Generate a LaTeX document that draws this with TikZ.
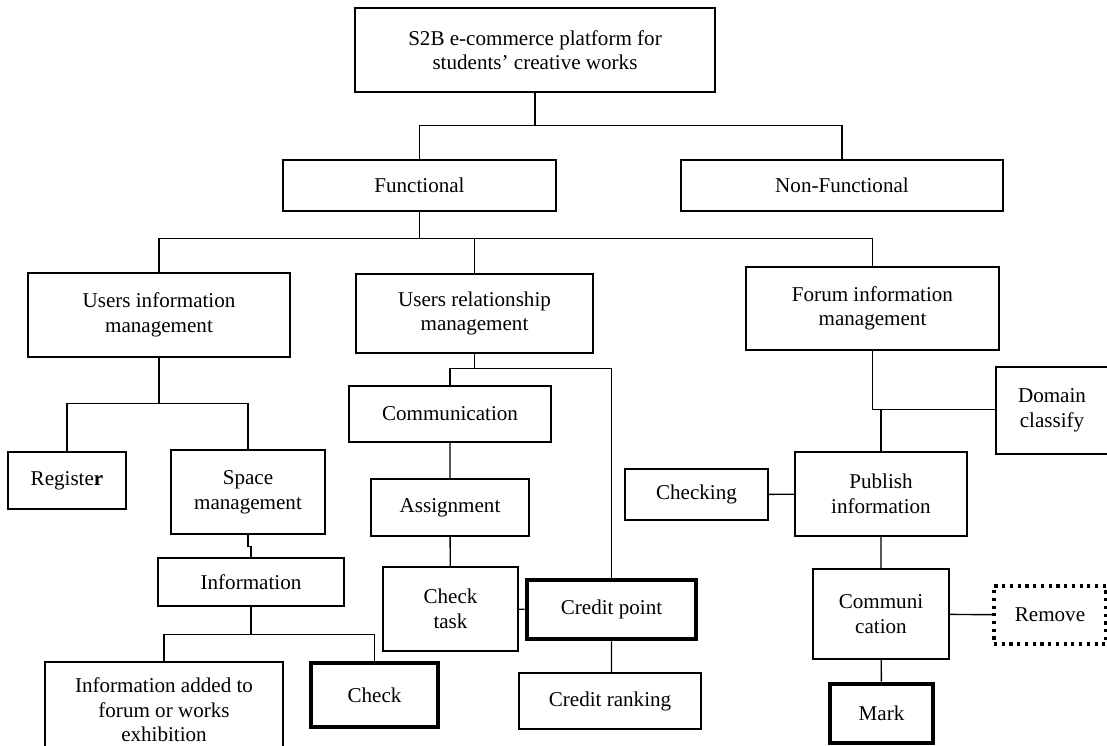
\documentclass[tikz,border=0pt]{standalone}
\usepackage{fontspec}
\setmainfont{Liberation Serif}
\usepackage{tikz}

\begin{document}
\begin{tikzpicture}[x=0.02cm,y=-0.02cm,
        font=\fontsize{12}{14}\selectfont,
        box/.style={draw,rectangle,line width=0.8pt,align=center,inner sep=2pt},
        boldbox/.style={box,line width=2.8pt},
        dotbox/.style={box,line width=1.8pt,dash pattern=on 1.8pt off 2.6pt},
        link/.style={line width=0.8pt}]
        \useasboundingbox (0,0) rectangle (1107,745);

        \node (top) at (535,50) [box,minimum width=7.2cm,minimum height=1.68cm] {S2B e-commerce platform for\\students’ creative works};
        \node (fun) at (419.5,185.5) [box,minimum width=5.46cm,minimum height=1.02cm] {Functional};
        \node (nonfun) at (842,185.5) [box,minimum width=6.44cm,minimum height=1.02cm] {Non-Functional};

        \node (uim) at (159,315) [box,minimum width=5.24cm,minimum height=1.68cm] {Users information\\management};
        \node (urm) at (474.5,313.5) [box,minimum width=4.74cm,minimum height=1.58cm] {Users relationship\\management};
        \node (fim) at (872.5,308.5) [box,minimum width=5.06cm,minimum height=1.66cm] {Forum information\\management};

        \node (reg) at (67,480.5) [box,minimum width=2.36cm,minimum height=1.14cm] {Registe\textbf{r}};
        \node (spm) at (248,492) [box,minimum width=3.08cm,minimum height=1.68cm] {Space\\management};
        \node (info) at (251,582) [box,minimum width=3.72cm,minimum height=0.96cm] {Information};
        \node (iadd) at (164,710) [box,minimum width=4.76cm,minimum height=1.92cm] {Information added to\\forum or works\\exhibition};
        \node (chk) at (374.5,695) [boldbox,minimum width=2.54cm,minimum height=1.28cm] {Check};

        \node (comm) at (450,414) [box,minimum width=4.04cm,minimum height=1.12cm] {Communication};
        \node (asg) at (450,507.5) [box,minimum width=3.16cm,minimum height=1.14cm] {Assignment};
        \node (task) at (450.5,609) [box,minimum width=2.7cm,minimum height=1.68cm] {Check\\task};
        \node (cpt) at (611.5,609.5) [boldbox,minimum width=3.38cm,minimum height=1.18cm] {Credit point};
        \node (crank) at (610,701) [box,minimum width=3.64cm,minimum height=1.12cm] {Credit ranking};

        \node (dom) at (1052,410.5) [box,minimum width=2.24cm,minimum height=1.74cm] {Domain\\classify};
        \node (pub) at (881,494) [box,minimum width=3.44cm,minimum height=1.68cm] {Publish\\information};
        \node (chking) at (696.5,494.5) [box,minimum width=2.86cm,minimum height=1.02cm] {Checking};
        \node (comm2) at (881,614) [box,minimum width=2.72cm,minimum height=1.8cm] {Communi\\cation};
        \node (rem) at (1050,615) [dotbox,minimum width=2.24cm,minimum height=1.16cm] {Remove};
        \node (mark) at (881.5,713.5) [boldbox,minimum width=2.06cm,minimum height=1.18cm] {Mark};

        % tree links
        \draw [link] (top.south) -- ++(0,33) -| (fun.north) (top.south) -- ++(0,33) -| (nonfun.north);
        \draw [link] (fun.south) -- ++(0,27) -| (uim.north) (fun.south) -- ++(0,27) -| (urm.north) (fun.south) -- ++(0,27) -| (fim.north);
        \draw [link] (uim.south) -- ++(0,46) -| (reg.north) (uim.south) -- ++(0,46) -| (spm.north);
        \draw [link] (spm.south) -- ++(0,12) -| (info.north);
        \draw [link] (info.south) -- ++(0,28) -| (iadd.north) (info.south) -- ++(0,28) -| (chk.north);
        \draw [link] (urm.south) -- ++(0,15) -| (comm.north) (urm.south) -- ++(0,15) -| (cpt.north);
        \draw [link] (comm) -- (asg) (asg) -- (task) (task) -- (cpt) (cpt) -- (cpt |- crank.north);
        \draw [link] (fim.south) -- ++(0,59) coordinate (j) -| (pub.north);
        \draw [link] (j) -- (j -| dom.west);
        \draw [link] (pub) -- (chking) (pub) -- (comm2) (comm2) -- (rem) (comm2) -- (mark);
\end{tikzpicture}
\end{document}
